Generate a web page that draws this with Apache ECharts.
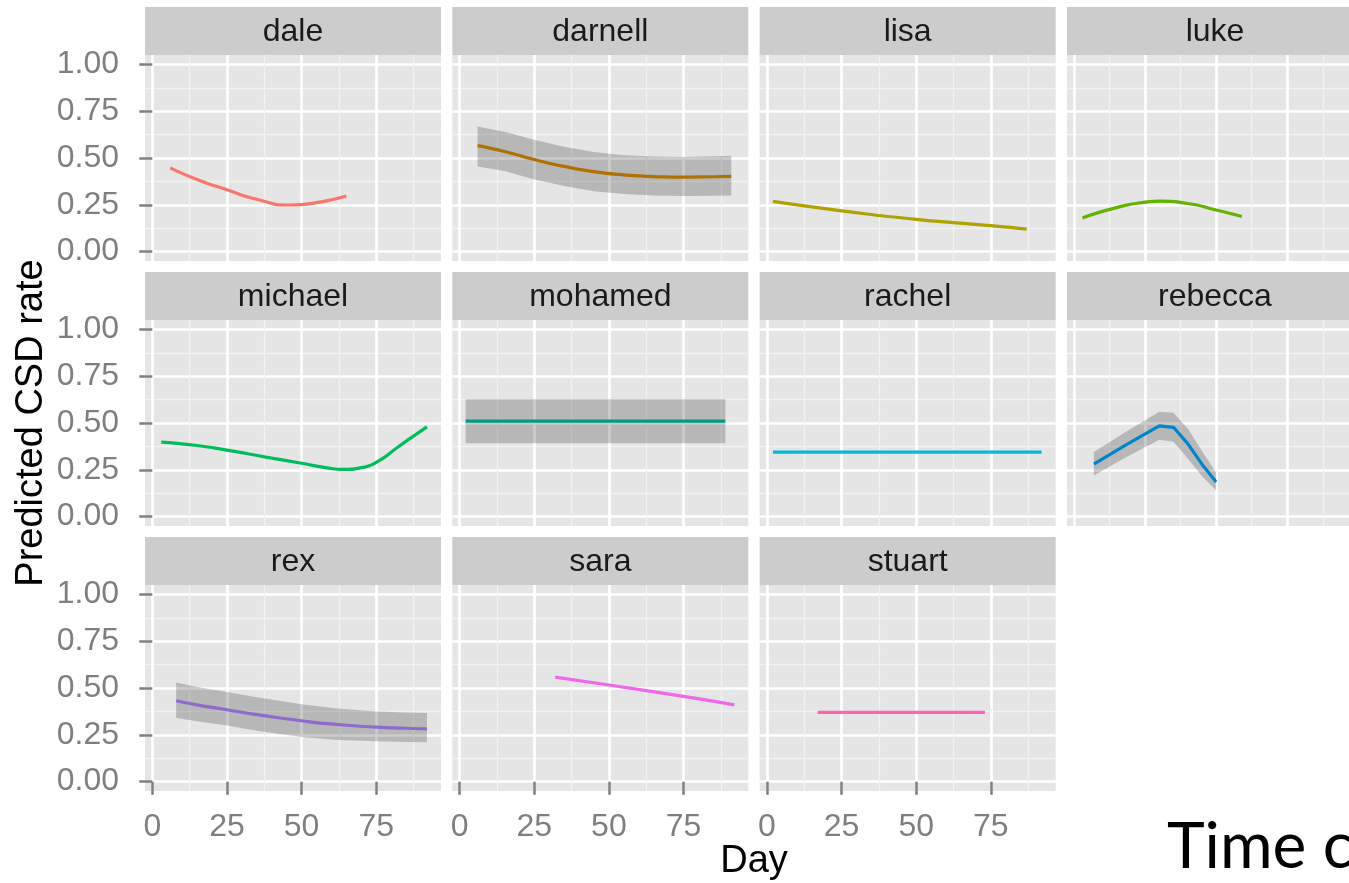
<!DOCTYPE html>
<html><head><meta charset="utf-8">
<script src="https://cdn.jsdelivr.net/npm/echarts@6/dist/echarts.min.js"></script>
<style>html,body{margin:0;padding:0;background:#fff}#c{width:1349px;height:883px}</style>
</head><body><div id="c"></div>
<script>
// ---------- data ----------
const panelNames = ['dale','darnell','lisa','luke','michael','mohamed','rachel','rebecca','rex','sara','stuart'];
const palette = ['#F8766D','#DB8E00','#AEA200','#64B200','#00BD5C','#00C1A7','#00BADE','#00A6FF','#B385FF','#EF67EB','#FF63B6'];

const xTicks = [0, 25, 50, 75];
const xMinorTicks = [12.5, 37.5, 62.5, 87.5];
const yTicks = [0, 0.25, 0.5, 0.75, 1];
const yMinorTicks = [0.125, 0.375, 0.625, 0.875];

const daleDay = [6, 15, 25, 35, 46, 55, 65];
const daleRate = [0.447, 0.385, 0.33, 0.28, 0.249, 0.262, 0.297];

const darnellDay = [6, 15, 25, 35, 45, 55, 65, 75, 85, 91];
const darnellRate = [0.566, 0.535, 0.492, 0.455, 0.427, 0.41, 0.401, 0.398, 0.4, 0.402];
const darnellLo = [0.455, 0.43, 0.385, 0.35, 0.322, 0.308, 0.3, 0.297, 0.298, 0.3];
const darnellHi = [0.668, 0.64, 0.598, 0.56, 0.532, 0.515, 0.508, 0.506, 0.51, 0.512];

const lisaDay = [2, 25, 50, 75, 87];
const lisaRate = [0.268, 0.218, 0.172, 0.139, 0.12];

const lukeDay = [3, 15, 25, 30, 40, 50, 59];
const lukeRate = [0.18, 0.235, 0.264, 0.27, 0.257, 0.222, 0.188];

const michaelDay = [3, 15, 25, 38, 50, 58, 64.5, 70, 75, 83, 92];
const michaelRate = [0.398, 0.38, 0.355, 0.318, 0.285, 0.262, 0.252, 0.262, 0.29, 0.38, 0.479];

const mohamedDay = [2, 89];
const mohamedRate = [0.51, 0.51];
const mohamedLo = [0.392, 0.392];
const mohamedHi = [0.627, 0.627];

const rachelDay = [2, 92];
const rachelRate = [0.345, 0.345];

const rebeccaDay = [7, 18, 30, 35, 40, 45, 50];
const rebeccaRate = [0.28, 0.38, 0.485, 0.477, 0.39, 0.28, 0.185];
const rebeccaLo = [0.22, 0.315, 0.41, 0.40, 0.31, 0.215, 0.14];
const rebeccaHi = [0.345, 0.45, 0.56, 0.555, 0.47, 0.35, 0.235];

const rexDay = [8, 15, 25, 35, 50, 62, 75, 85, 92];
const rexRate = [0.432, 0.41, 0.384, 0.358, 0.325, 0.305, 0.291, 0.285, 0.282];
const rexLo = [0.34, 0.322, 0.3, 0.272, 0.238, 0.222, 0.215, 0.212, 0.21];
const rexHi = [0.53, 0.505, 0.478, 0.45, 0.413, 0.39, 0.375, 0.369, 0.367];

const saraDay = [32, 50, 75, 92];
const saraRate = [0.558, 0.516, 0.455, 0.41];

const stuartDay = [17, 73];
const stuartRate = [0.37, 0.37];

// ---------- assembly ----------
const lines = [
  [daleDay, daleRate], [darnellDay, darnellRate], [lisaDay, lisaRate], [lukeDay, lukeRate],
  [michaelDay, michaelRate], [mohamedDay, mohamedRate], [rachelDay, rachelRate], [rebeccaDay, rebeccaRate],
  [rexDay, rexRate], [saraDay, saraRate], [stuartDay, stuartRate]
];
const ribbons = {1: [darnellDay, darnellLo, darnellHi], 5: [mohamedDay, mohamedLo, mohamedHi],
                 7: [rebeccaDay, rebeccaLo, rebeccaHi], 8: [rexDay, rexLo, rexHi]};

const FONT = '"Liberation Sans", Arial, Helvetica, sans-serif';
const PW = 296, PH = 206, STRIP = 48;
const colLeft = c => 145 + c * 307.33;
const rowTop = r => 55 + r * 265;
const XMIN = -2.44, XMAX = 96.7, YMIN = -0.05, YMAX = 1.05;

const grids = [], xAxes = [], yAxes = [], series = [], graphics = [];
panelNames.forEach((name, i) => {
  const col = i % 4, row = Math.floor(i / 4);
  const left = colLeft(col), top = rowTop(row);
  grids.push({left, top, width: PW, height: PH, show: true, backgroundColor: '#E5E5E5', borderWidth: 0, containLabel: false});
  const isBottom = i >= 8;
  const isLeft = col === 0;
  // minor axes
  xAxes.push({type: 'value', gridIndex: i, position: 'bottom', min: XMIN, max: XMAX,
    axisLine: {show: false}, axisTick: {show: false, customValues: xMinorTicks},
    axisLabel: {show: false, customValues: xMinorTicks},
    splitLine: {show: true, lineStyle: {color: '#F2F2F2', width: 1.3}}});
  yAxes.push({type: 'value', gridIndex: i, position: 'left', min: YMIN, max: YMAX,
    axisLine: {show: false}, axisTick: {show: false, customValues: yMinorTicks},
    axisLabel: {show: false, customValues: yMinorTicks},
    splitLine: {show: true, lineStyle: {color: '#F2F2F2', width: 1.3}}});
  // major axes
  xAxes.push({type: 'value', gridIndex: i, position: 'bottom', min: XMIN, max: XMAX,
    axisLine: {show: false},
    axisTick: {show: isBottom, customValues: xTicks, length: 13, lineStyle: {color: '#7F7F7F', width: 2.5}},
    axisLabel: {show: isBottom, customValues: xTicks, color: '#7F7F7F', fontSize: 32, fontFamily: FONT, margin: 20},
    splitLine: {show: true, lineStyle: {color: '#FFFFFF', width: 2.6}}});
  yAxes.push({type: 'value', gridIndex: i, position: 'left', min: YMIN, max: YMAX,
    axisLine: {show: false},
    axisTick: {show: isLeft, customValues: yTicks, length: 13, lineStyle: {color: '#7F7F7F', width: 2.5}},
    axisLabel: {show: isLeft, customValues: yTicks, color: '#7F7F7F', fontSize: 32, fontFamily: FONT, margin: 26,
      formatter: v => Number(v).toFixed(2)},
    splitLine: {show: true, lineStyle: {color: '#FFFFFF', width: 2.6}}});

  const [days, rates] = lines[i];
  series.push({type: 'line', name, xAxisIndex: 2 * i + 1, yAxisIndex: 2 * i + 1,
    data: days.map((d, k) => [d, rates[k]]), showSymbol: false, symbol: 'none',
    smooth: name === 'rebecca' ? false : 0.6, silent: true,
    lineStyle: {color: palette[i], width: 3.2}, itemStyle: {color: palette[i]}, z: 2});
  if (ribbons[i]) {
    const [rd, lo, hi] = ribbons[i];
    series.push({type: 'custom', xAxisIndex: 2 * i + 1, yAxisIndex: 2 * i + 1, z: 3, silent: true,
      data: rd.map((d, k) => [d, lo[k], hi[k]]), encode: {x: 0, y: [1, 2]},
      renderItem: (params, api) => {
        if (params.dataIndex !== 0) return null;
        const pts = [];
        for (let k = 0; k < rd.length; k++) pts.push(api.coord([rd[k], hi[k]]));
        for (let k = rd.length - 1; k >= 0; k--) pts.push(api.coord([rd[k], lo[k]]));
        return {type: 'polygon', shape: {points: pts}, style: {fill: 'rgba(0,0,0,0.2)'}};
      }});
  }
  // strip
  graphics.push({type: 'rect', shape: {x: left, y: top - STRIP, width: PW, height: STRIP}, style: {fill: '#CCCCCC'}, z: 10});
  graphics.push({type: 'text', x: left + PW / 2, y: top - STRIP / 2 + 1, z: 11,
    style: {text: name, fill: '#1A1A1A', font: '32px ' + FONT, textAlign: 'center', verticalAlign: 'middle', textVerticalAlign: 'middle'}});
});

graphics.push({type: 'text', x: 754, y: 862, z: 11,
  style: {text: 'Day', fill: '#000', font: '38px ' + FONT, textAlign: 'center', verticalAlign: 'middle', textVerticalAlign: 'middle'}});
graphics.push({type: 'text', x: 32, y: 423, rotation: Math.PI / 2, z: 11,
  style: {text: 'Predicted CSD rate', fill: '#000', font: '38px ' + FONT, textAlign: 'center', verticalAlign: 'middle', textVerticalAlign: 'middle'}});
graphics.push({type: 'text', x: 1167, y: 847, z: 11,
  style: {text: 'Time c', fill: '#000', font: '64px Lato, "Open Sans", sans-serif', textAlign: 'left', verticalAlign: 'middle', textVerticalAlign: 'middle'}});

const chart = echarts.init(document.getElementById('c'), null, {renderer: 'canvas'});
chart.setOption({
  animation: false,
  backgroundColor: '#FFFFFF',
  grid: grids, xAxis: xAxes, yAxis: yAxes, series,
  graphic: {elements: graphics}
});
</script></body></html>
